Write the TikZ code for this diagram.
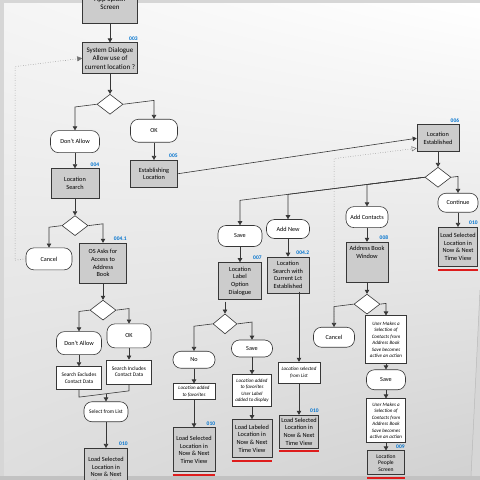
\documentclass[tikz,border=0pt]{standalone}
\usepackage{fontspec}
\setmainfont{Carlito}
\usetikzlibrary{positioning}
\usetikzlibrary{shapes.geometric}
\usetikzlibrary{arrows.meta}
\usetikzlibrary{shadings}
\definecolor{idblue}{RGB}{0,114,206}
\definecolor{linegray}{RGB}{55,55,55}
\definecolor{barred}{RGB}{222,28,28}

\begin{document}
\begin{tikzpicture}
    [
        x=1pt, y=-1pt,
        screen/.style = {rectangle, draw=linegray, fill=gray!40, line width=0.6pt, align=center, inner sep=1.5pt, minimum width=46pt, minimum height=30pt, font=\fontsize{6.3}{7.6}\selectfont},
        topbox/.style = {minimum width=55pt, font=\fontsize{7}{8.4}\selectfont},
        choice/.style = {rectangle, draw=linegray, fill=white, line width=0.6pt, rounded corners=8pt, align=center, inner sep=1pt, minimum width=44pt, minimum height=21pt, font=\fontsize{6.2}{7.4}\selectfont},
        decision/.style = {diamond, draw=linegray, fill=white, line width=0.6pt, minimum width=26pt, minimum height=20pt, inner sep=0pt},
        action/.style = {rectangle, draw=linegray, fill=white, line width=0.6pt, align=center, inner sep=1pt, minimum width=42pt, minimum height=17pt, font=\fontsize{5}{6.4}\selectfont\itshape},
        info/.style = {rectangle, draw=linegray, fill=white, line width=0.6pt, align=center, inner sep=1pt, minimum width=45pt, minimum height=23pt, font=\fontsize{5.4}{6.4}\selectfont},
        idlabel/.style = {text=idblue, inner sep=0pt, font=\fontsize{5.5}{6}\selectfont\bfseries},
        arrow/.style = {linegray, line width=0.6pt, -{Triangle[length=4pt,width=4.5pt]}},
        link/.style = {linegray, line width=0.6pt},
        backlink/.style = {black!55, line width=0.5pt, dotted},
        redbar/.style = {barred, line width=2pt}
    ]

    \useasboundingbox (0,0) rectangle (480,480);
    \clip (0,0) rectangle (480,480);

    % Blatt
    \fill[gray!32] (0,0) rectangle (480,480);
    \shade[upper left=gray!8, upper right=white, lower left=gray!26, lower right=gray!36]
        (4,3) -- (480,3) -- (480,290) -- (471,476) -- (4,476) -- cycle;
    \draw[gray!55, line width=0.5pt] (480,290) -- (471,476);
    \fill[gray!48] (0,476) rectangle (480,480);

    \begin{scope}[cm={1,0.125,0,1,(0,0)}]

        \node (splash) [screen, topbox, minimum height=40pt] at (110,17) {App Splash\\Screen};
        \node (sysdlg) [screen, topbox, minimum height=31pt] at (110,72) {System Dialogue\\Allow use of\\current location ?};
        \node (ask) [decision] at (110,118) {};
        \node (deny) [choice, minimum width=49pt, minimum height=22pt] at (75,151) {Don't Allow};
        \node (allow) [choice, minimum width=47pt, minimum height=23pt] at (154,150) {OK};
        \node (search) [screen, minimum width=48pt] at (75,193) {Location\\Search};
        \node (estab) [screen, minimum width=47pt, minimum height=27pt] at (154,193) {Establishing\\Location};
        \node (located) [screen, minimum width=42pt, minimum height=27pt] at (438,193) {Location\\Established};

        \node (askbook) [decision] at (75,235) {};
        \node (cancel) [choice, minimum width=46pt, minimum height=22pt] at (49,265) {Cancel};
        \node (osask) [screen, minimum width=47pt, minimum height=40pt] at (103,276) {OS Asks for\\Access to\\Address\\Book};
        \node (askloc) [decision] at (103,323) {};
        \node (deny2) [choice, minimum width=45pt, minimum height=23pt] at (79,353) {Don't Allow};
        \node (allow2) [choice, minimum width=44pt, minimum height=24pt] at (129,352) {OK};
        \node (exclude) [info] at (79,388) {Search Excludes\\Contact Data};
        \node (include) [info, minimum height=24pt] at (129,388) {Search Includes\\Contact Data};
        \coordinate (merge) at (106,407);
        \node (fromlist) [choice, minimum height=20pt, font=\fontsize{5.4}{6.4}\selectfont] at (106,425) {Select from List};
        \node (loadlist) [screen, minimum width=43pt, minimum height=45pt] at (106,484) {Load Selected\\Location in\\Now \& Next\\Time View};

        \node (pick) [decision] at (438,232) {};
        \node (save) [choice] at (240,266) {Save};
        \node (addnew) [choice, minimum width=43pt, minimum height=19pt] at (288,265) {Add New};
        \node (addcont) [choice, minimum width=42pt] at (367,263) {Add Contacts};
        \node (continue) [choice, minimum width=40pt, minimum height=19pt] at (458,260) {Continue};
        \node (loadcont) [screen, minimum width=39pt, minimum height=39pt] at (458,304) {Load Selected\\Location in\\Now \& Next\\Time View};

        \node (labeldlg) [screen, minimum width=43pt, minimum height=37pt] at (240,311) {Location\\Label\\Option\\Dialogue};
        \node (asklabel) [decision, minimum width=24pt] at (225,352) {};
        \node (no) [choice, minimum width=42pt, minimum height=17pt] at (194,384) {No};
        \node (save2) [choice, minimum width=41pt, minimum height=17pt] at (252,380) {Save};
        \node (favs) [action, minimum height=16pt] at (194,416) {Location added\\to favorites};
        \node (favlabel) [action, minimum width=39pt, minimum height=32pt] at (252,422) {Location added\\to favorites\\User Label\\added to display};
        \node (loadfav) [screen, minimum width=42pt, minimum height=44pt] at (194,474) {Load Selected\\Location in\\Now \& Next\\Time View};
        \node (loadlabel) [screen, minimum width=40pt, minimum height=38pt] at (252,470) {Load Labeled\\Location in\\Now \& Next\\Time View};

        \node (searchcur) [screen, minimum width=42pt, minimum height=36pt] at (288,311) {Location\\Search with\\Current Lct\\Established};
        \node (listsel) [action, minimum height=21pt] at (299,410) {Location selected\\from List};
        \node (loadsel) [screen, minimum width=39pt, minimum height=33pt] at (299,469) {Load Selected\\Location in\\Now \& Next\\Time View};

        \node (book) [screen, minimum width=42pt, minimum height=40pt] at (367,308) {Address Book\\Window\\[12pt]~};
        \node (askcont) [decision] at (367,350) {};
        \node (cancel2) [choice, minimum width=41pt, minimum height=20pt] at (334,379) {Cancel};
        \node (select) [action, minimum width=41pt, minimum height=48pt] at (386,388) {User Makes a\\Selection of\\Contacts from\\Address Book\\Save becomes\\active an action};
        \node (save3) [choice, minimum width=39pt, minimum height=20pt] at (386,428) {Save};
        \node (select2) [action, minimum width=39pt, minimum height=44pt] at (386,469) {User Makes a\\Selection of\\Contacts from\\Address Book\\Save becomes\\active an action};
        \node (people) [screen, minimum width=37pt, minimum height=24pt, font=\fontsize{5.6}{6.5}\selectfont] at (386,511) {Location\\People\\Screen};

        \node[idlabel, above left=2pt and 0pt of sysdlg.north east] {003};
        \node[idlabel, above left=2pt and 0pt of search.north east] {004};
        \node[idlabel, above left=2pt and 0pt of estab.north east] {005};
        \node[idlabel, above left=2pt and 0pt of located.north east] {006};
        \node[idlabel, above left=2pt and 0pt of osask.north east] {004.1};
        \node[idlabel, above left=2pt and 0pt of labeldlg.north east] {007};
        \node[idlabel, above left=2pt and 0pt of searchcur.north east] {004.2};
        \node[idlabel, above left=2pt and 0pt of book.north east] {008};
        \node[idlabel, above left=2pt and 0pt of loadcont.north east] {010};
        \node[idlabel, above left=2pt and 0pt of loadlist.north east] {010};
        \node[idlabel, above left=2pt and 0pt of loadfav.north east] {010};
        \node[idlabel, above left=2pt and 0pt of loadsel.north east] {010};
        \node[idlabel, above left=2pt and 0pt of people.north east] {009};

        \draw[arrow] (splash) -- (sysdlg);
        \draw[arrow] (sysdlg) -- (ask);
        \draw[arrow] (ask.west) -| (deny.north);
        \draw[arrow] (ask.east) -| (allow.north);
        \draw[arrow] (deny) -- (search);
        \draw[arrow] (allow) -- (estab);
        \draw[arrow] (estab.east) -- (located.west);
        \draw[arrow] (search) -- (askbook);
        \draw[arrow] (askbook.west) -| (cancel.north);
        \draw[arrow] (askbook.east) -| (osask.north);
        \coordinate (loopleft) at (15,0);
        \draw[backlink, -{Triangle[length=5pt,width=5pt]}] (cancel.west) -- (cancel.west -| loopleft) |- (sysdlg.west);
        \draw[arrow] (osask) -- (askloc);
        \draw[arrow] (askloc.west) -| (deny2.north);
        \draw[arrow] (askloc.east) -| (allow2.north);
        \draw[arrow] (deny2) -- (exclude);
        \draw[arrow] (allow2) -- (include);
        \draw[link] (exclude.south) |- (merge) -| (include.south);
        \draw[arrow] (merge) -- (fromlist);
        \draw[arrow] (fromlist) -- (loadlist);

        \draw[arrow] (located) -- (pick);
        \draw[arrow] (pick.west) -| (save.north);
        \draw[arrow] (pick.west) -| (addnew.north);
        \draw[arrow] (pick.west) -| (addcont.north);
        \draw[arrow] (pick.east) -| (continue.north);
        \draw[arrow] (continue) -- (loadcont);

        \draw[arrow] (save) -- (labeldlg);
        \draw[arrow] (labeldlg.south -| asklabel.north) -- (asklabel.north);
        \draw[arrow] (asklabel.west) -| (no.north);
        \draw[arrow] (asklabel.east) -| (save2.north);
        \draw[arrow] (no) -- (favs);
        \draw[arrow] (favs) -- (loadfav);
        \draw[arrow] (save2) -- (favlabel);
        \draw[arrow] (favlabel) -- (loadlabel);

        \draw[arrow] (addnew) -- (searchcur);
        \draw[arrow] (searchcur.south -| listsel.north) -- (listsel.north);
        \draw[arrow] (listsel) -- (loadsel);

        \draw[arrow] (addcont) -- (book);
        \draw[arrow] (book) -- (askcont);
        \draw[arrow] (askcont.west) -| (cancel2.north);
        \draw[arrow] (askcont.east) -| (select.north);
        \draw[backlink, -{Triangle[open,length=5pt,width=5pt]}] (cancel2.north) |- ([yshift=-10pt]located.west);
        \draw[arrow] (select) -- (save3);
        \draw[arrow] (save3) -- (select2);
        \draw[arrow] (select2) -- (people);

    \end{scope}

    \draw[redbar] ([yshift=-3pt]loadcont.south west) -- ([yshift=-3pt]loadcont.south east);
    \draw[redbar] ([yshift=-3pt]loadfav.south west) -- ([yshift=-3pt]loadfav.south east);
    \draw[redbar] ([yshift=-3pt]loadlabel.south west) -- ([yshift=-3pt]loadlabel.south east);
    \draw[redbar] ([yshift=-3pt]loadsel.south west) -- ([yshift=-3pt]loadsel.south east);
    \draw[redbar] ([yshift=-3pt]people.south west) -- ([yshift=-3pt]people.south east);

\end{tikzpicture}
\end{document}
